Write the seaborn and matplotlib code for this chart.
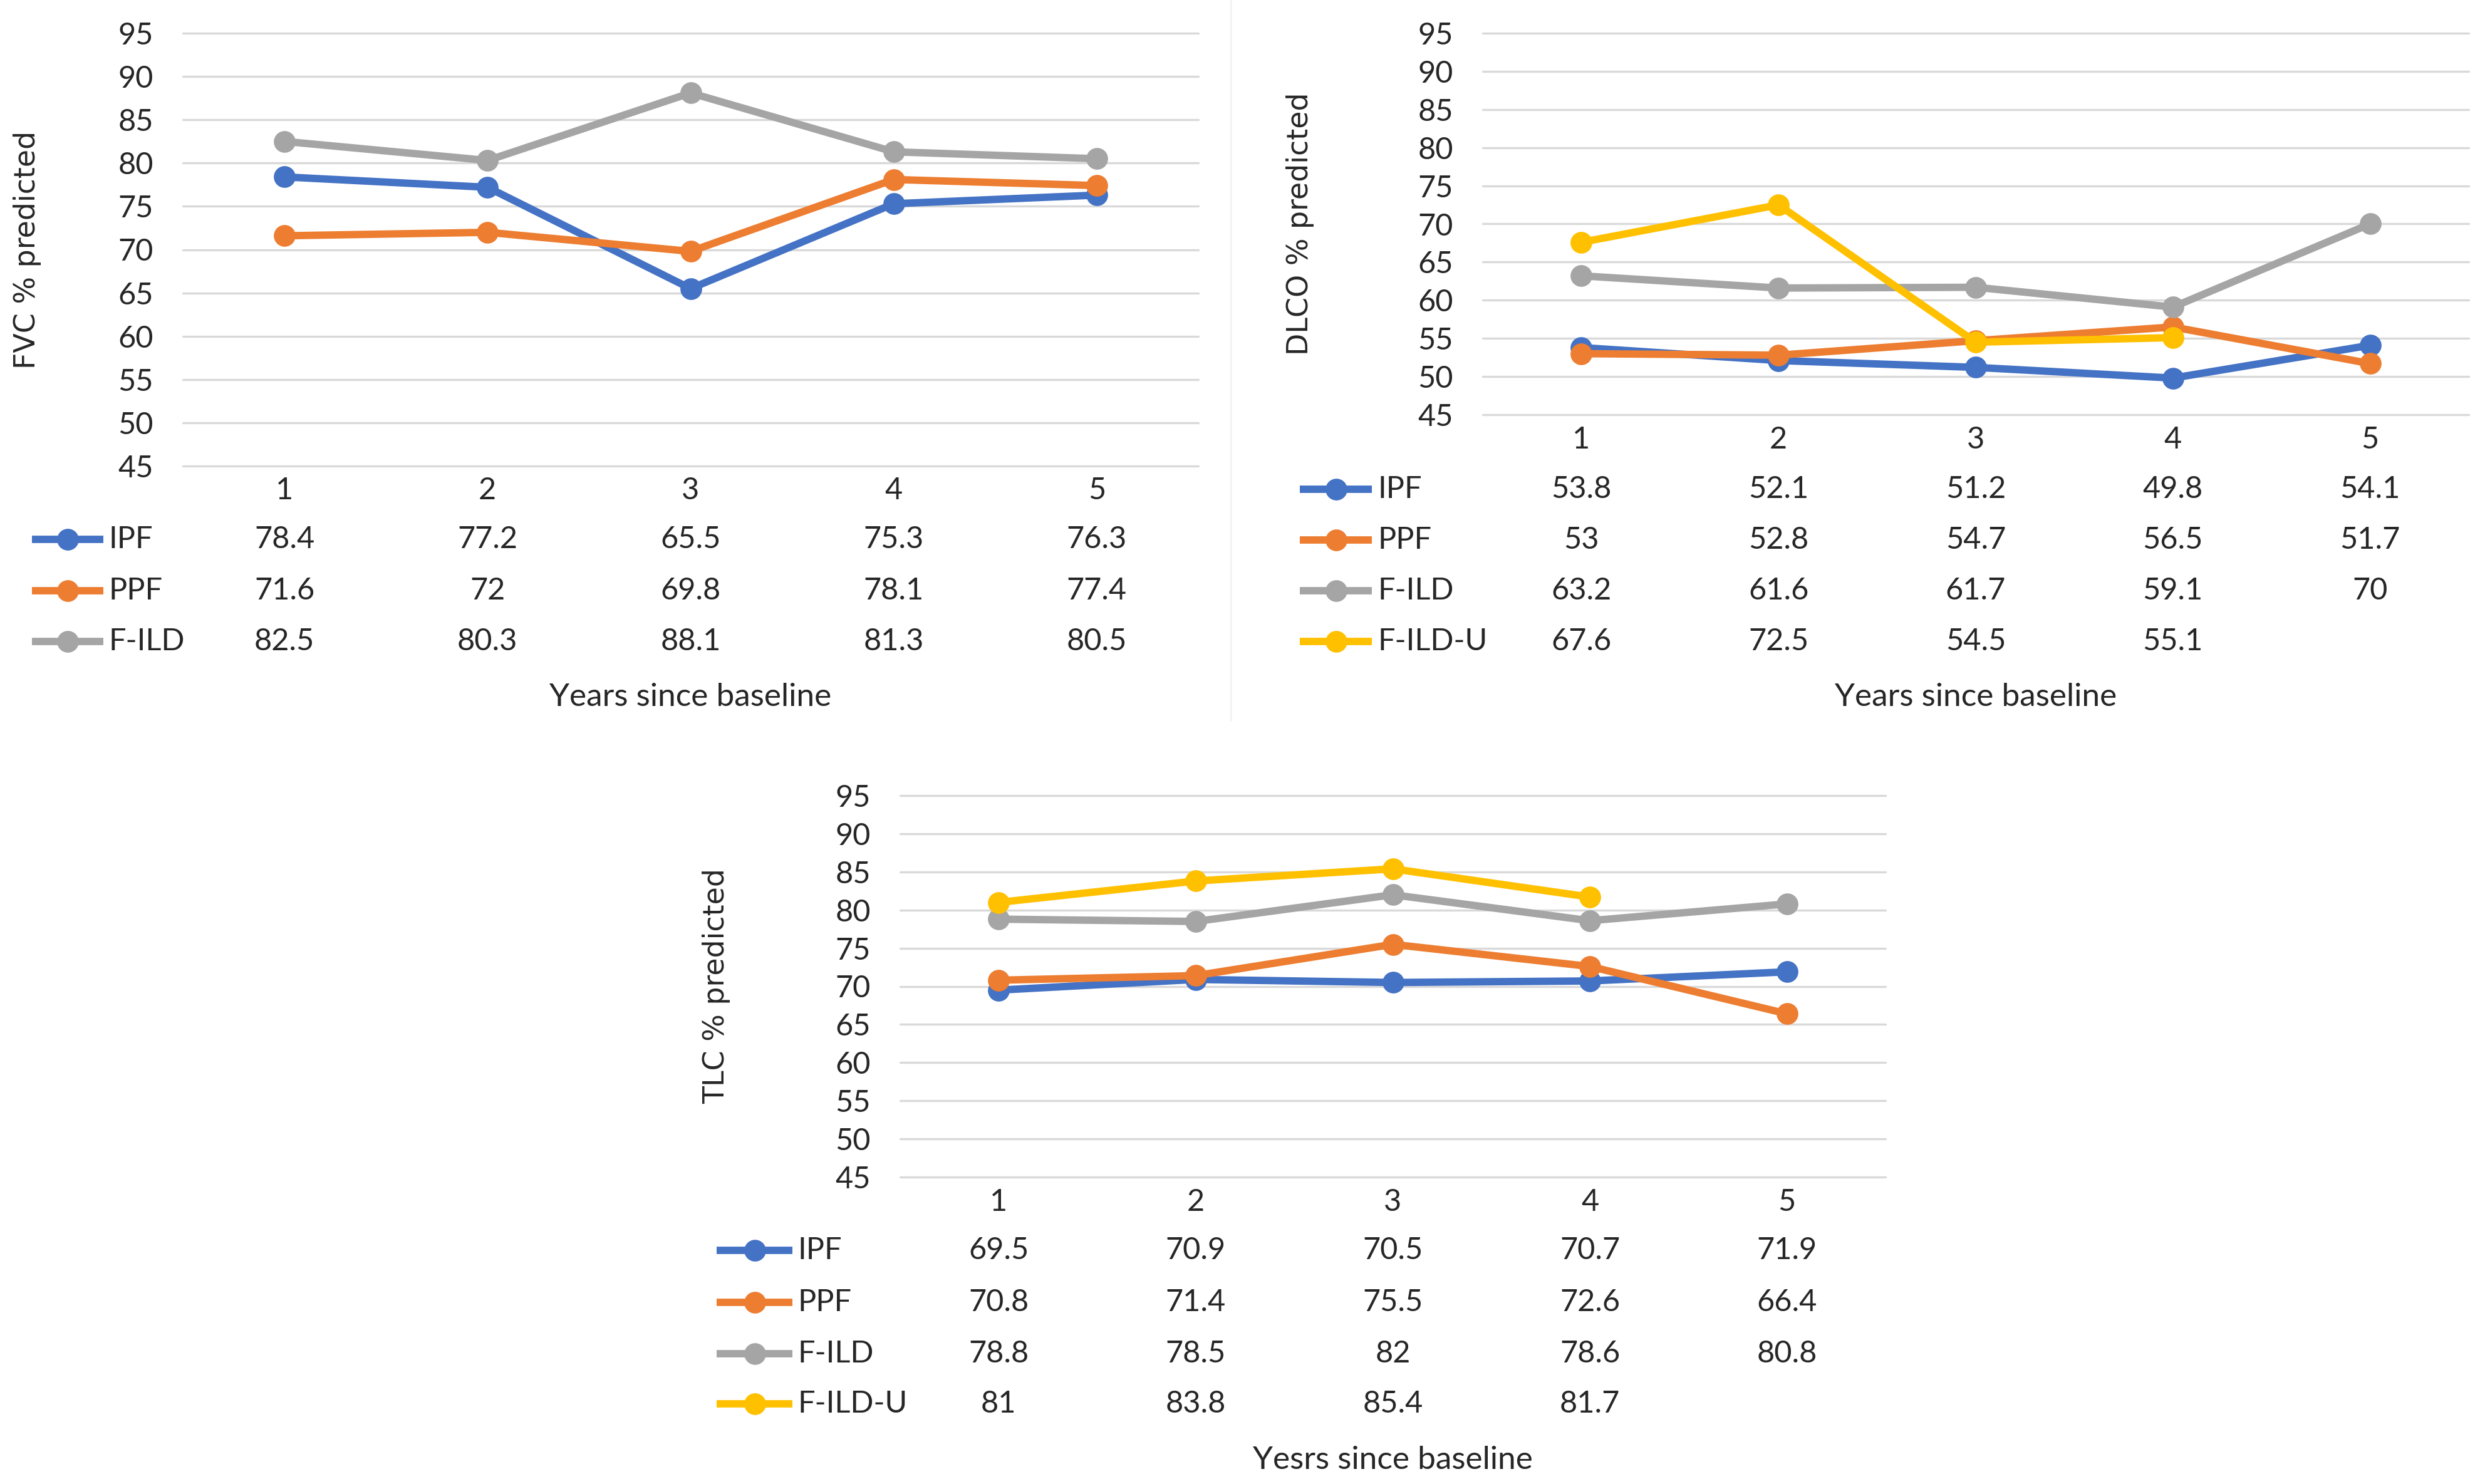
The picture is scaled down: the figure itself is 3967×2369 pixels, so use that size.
import numpy as np
import pandas as pd
import matplotlib
matplotlib.use("Agg")
import matplotlib.pyplot as plt
from matplotlib.lines import Line2D
from matplotlib.transforms import blended_transform_factory
import seaborn as sns

# ---- data ------------------------------------------------------------------
years = [1, 2, 3, 4, 5]
groups = ["IPF", "PPF", "F-ILD", "F-ILD-U"]
y_ticks = [45, 50, 55, 60, 65, 70, 75, 80, 85, 90, 95]

fvc_ipf = [78.4, 77.2, 65.5, 75.3, 76.3]
fvc_ppf = [71.6, 72, 69.8, 78.1, 77.4]
fvc_fild = [82.5, 80.3, 88.1, 81.3, 80.5]

dlco_ipf = [53.8, 52.1, 51.2, 49.8, 54.1]
dlco_ppf = [53, 52.8, 54.7, 56.5, 51.7]
dlco_fild = [63.2, 61.6, 61.7, 59.1, 70]
dlco_fild_u = [67.6, 72.5, 54.5, 55.1, np.nan]

tlc_ipf = [69.5, 70.9, 70.5, 70.7, 71.9]
tlc_ppf = [70.8, 71.4, 75.5, 72.6, 66.4]
tlc_fild = [78.8, 78.5, 82, 78.6, 80.8]
tlc_fild_u = [81, 83.8, 85.4, 81.7, np.nan]

PALETTE = {"IPF": "#4472C4", "PPF": "#ED7D31", "F-ILD": "#A5A5A5", "F-ILD-U": "#FFC000"}

W, H = 3967, 2369
sns.set_style("white")
plt.rcParams["font.family"] = ["Lato", "DejaVu Sans"]
TXT = 35
NARROW = ["Liberation Sans Narrow", "Lato", "DejaVu Sans"]


def fx(px):
    return px / W


def fy(py):
    return 1 - py / H


def panel(fig, series, box, ylabel, xlabel, key_x, row_y, tick_y, xlabel_y, ylabel_x):
    x0, x1, ytop, ybot = box
    ax = fig.add_axes([fx(x0), fy(ybot), fx(x1) - fx(x0), fy(ytop) - fy(ybot)])
    names = list(series)
    long = pd.DataFrame([
        {"year": yr, "group": g, "value": v}
        for g in names for yr, v in zip(years, series[g])
    ]).dropna()
    sns.lineplot(data=long, x="year", y="value", hue="group", hue_order=names,
                 palette=PALETTE, marker="o", markersize=25, linewidth=8.5,
                 markeredgewidth=0, estimator=None, legend=False, ax=ax)
    ax.set_xlim(0.5, 5.5)
    ax.set_ylim(45, 95)
    ax.set_yticks(y_ticks)
    ax.set_xticks([])
    ax.grid(axis="y", color="#D9D9D9", linewidth=2.4)
    ax.set_axisbelow(True)
    for gl in ax.get_ygridlines():
        gl.set_clip_on(False)
    sns.despine(ax=ax, left=True, bottom=True)
    ax.tick_params(axis="y", length=0, pad=34, labelsize=TXT)
    ax.set_xlabel("")
    ax.set_ylabel("")

    trans = blended_transform_factory(ax.transData, fig.transFigure)
    for yr in years:
        fig.text(yr, fy(tick_y), str(yr), transform=trans, ha="center", va="center", fontsize=TXT)

    # data table under the chart, with the legend keys
    for g, ry in zip(names, row_y):
        k0, k1 = key_x
        fig.add_artist(Line2D([fx(k0), fx((k0 + k1) / 2), fx(k1)], [fy(ry)] * 3,
                              transform=fig.transFigure, color=PALETTE[g], lw=8.5,
                              marker="o", markersize=25, markeredgewidth=0, markevery=[1],
                              solid_capstyle="butt"))
        fig.text(fx(k1 + 9), fy(ry), g, ha="left", va="center", fontsize=TXT, family=NARROW)
        for yr, v in zip(years, series[g]):
            if np.isnan(v):
                continue
            fig.text(yr, fy(ry), f"{v:g}", transform=trans, ha="center", va="center", fontsize=TXT)

    fig.text((fx(x0) + fx(x1)) / 2, fy(xlabel_y), xlabel, ha="center", va="center", fontsize=37)
    fig.text(fx(ylabel_x), (fy(ytop) + fy(ybot)) / 2, ylabel, rotation=90, ha="center", va="center",
             fontsize=33, family=["DejaVu Sans"])
    return ax


fig = plt.figure(figsize=(W / 100, H / 100), dpi=100)

panel(fig, {"IPF": fvc_ipf, "PPF": fvc_ppf, "F-ILD": fvc_fild},
      box=(292, 1913, 53, 744), ylabel="FVC % predicted", xlabel="Years since baseline",
      key_x=(51, 165), row_y=[861, 943, 1024], tick_y=783, xlabel_y=1113, ylabel_x=44)

panel(fig, {"IPF": dlco_ipf, "PPF": dlco_ppf, "F-ILD": dlco_fild, "F-ILD-U": dlco_fild_u},
      box=(2367, 3941, 53, 662), ylabel="DLCO % predicted", xlabel="Years since baseline",
      key_x=(2075, 2190), row_y=[781, 862, 943, 1024], tick_y=702, xlabel_y=1113, ylabel_x=2076)

panel(fig, {"IPF": tlc_ipf, "PPF": tlc_ppf, "F-ILD": tlc_fild, "F-ILD-U": tlc_fild_u},
      box=(1437, 3010, 1270, 1879), ylabel="TLC % predicted", xlabel="Yesrs since baseline",
      key_x=(1144, 1265), row_y=[1996, 2079, 2161, 2241], tick_y=1919, xlabel_y=2331, ylabel_x=1144)

# faint chart-area border between the two top charts
fig.add_artist(Line2D([fx(1965), fx(1965)], [fy(0), fy(1150)], transform=fig.transFigure,
                      color="#F2F2F2", lw=2))

fig.savefig("out.png", dpi=100, facecolor="white")
